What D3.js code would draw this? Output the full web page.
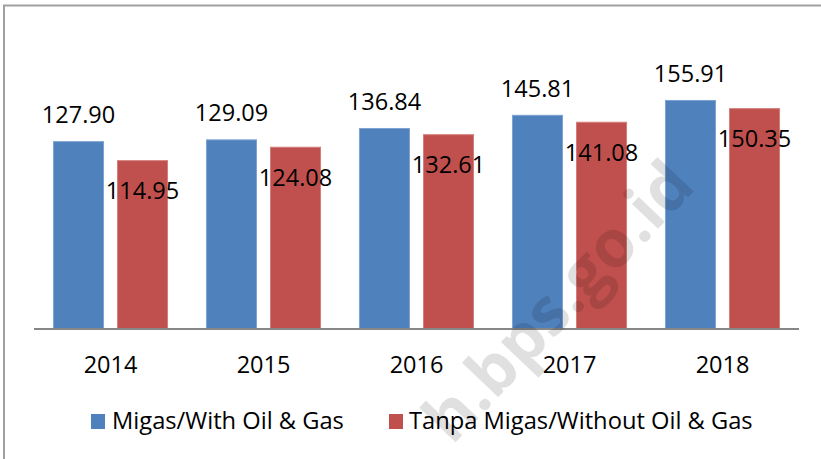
<!DOCTYPE html>
<html>
<head>
<meta charset="utf-8">
<script src="https://cdn.jsdelivr.net/npm/d3@7"></script>
<style>
  body { margin: 0; background: #fff; }
  svg text { font-family: "Open Sans", "Noto Sans", sans-serif; fill: #000; }
</style>
</head>
<body>
<svg width="821" height="459"></svg>
<script>
var years = ["2014", "2015", "2016", "2017", "2018"];
var seriesNames = ["Migas/With Oil & Gas", "Tanpa Migas/Without Oil & Gas"];
var withOilGas = [127.90, 129.09, 136.84, 145.81, 155.91];
var withoutOilGas = [114.95, 124.08, 132.61, 141.08, 150.35];
var colors = ["#4F81BD", "#C0504D"];
var strokes = ["#7ea3d3", "#d27e7b"];

var svg = d3.select("svg"),
    width = +svg.attr("width"),
    height = +svg.attr("height");

var baseY = 329;

var x0 = d3.scaleBand()
    .domain(years)
    .range([34, 799])
    .paddingInner(0.248)
    .paddingOuter(0.124);

var x1 = d3.scaleBand()
    .domain([0, 1])
    .range([0, x0.bandwidth()])
    .paddingInner(0.203);

var y = d3.scaleLinear()
    .domain([0, 180])
    .range([baseY, baseY - 180 * 1.469]);

// frame
svg.append("line")
    .attr("x1", 3).attr("x2", width)
    .attr("y1", 5.5).attr("y2", 5.5)
    .attr("stroke", "#a0a0a0").attr("stroke-width", 2);
svg.append("line")
    .attr("x1", 4).attr("x2", 4)
    .attr("y1", 5).attr("y2", height)
    .attr("stroke", "#a0a0a0").attr("stroke-width", 2);

var rows = years.map(function(yr, i) {
  return {year: yr, values: [withOilGas[i], withoutOilGas[i]]};
});

var group = svg.append("g").selectAll("g")
    .data(rows)
    .enter().append("g")
    .attr("transform", function(d) { return "translate(" + x0(d.year) + ",0)"; });

group.selectAll("rect")
    .data(function(d) { return d.values.map(function(v, s) { return {s: s, v: v}; }); })
    .enter().append("rect")
    .attr("x", function(d) { return x1(d.s) + 0.5; })
    .attr("width", x1.bandwidth() - 1)
    .attr("y", function(d) { return y(d.v) + 0.5; })
    .attr("height", function(d) { return baseY - y(d.v) - 0.5; })
    .attr("fill", function(d) { return colors[d.s]; })
    .attr("stroke", function(d) { return strokes[d.s]; })
    .attr("stroke-width", 1);

// value labels: blue above bar, red inside near top
group.selectAll("text.val")
    .data(function(d) { return d.values.map(function(v, s) { return {s: s, v: v}; }); })
    .enter().append("text")
    .attr("class", "val")
    .attr("x", function(d) { return x1(d.s) + x1.bandwidth() / 2; })
    .attr("y", function(d) { return d.s === 0 ? y(d.v) - 18 : y(d.v) + 39; })
    .attr("text-anchor", "middle")
    .style("font-size", "23.5px")
    .text(function(d) { return d.v.toFixed(2); });

// axis
var xAxis = svg.append("g")
    .attr("transform", "translate(0," + baseY + ")")
    .call(d3.axisBottom(x0).tickSize(0).tickPadding(0));
xAxis.select(".domain").remove();
xAxis.append("line")
    .attr("x1", 34).attr("x2", 799)
    .attr("stroke", "#868686").attr("stroke-width", 2);
xAxis.selectAll(".tick text")
    .attr("y", 44)
    .attr("dy", null)
    .style("font-size", "23.5px")
    .style("font-family", "'Open Sans', sans-serif")
    .attr("fill", "#000");

// legend
var legendX = [91, 389];
var legend = svg.append("g").selectAll("g")
    .data(seriesNames)
    .enter().append("g")
    .attr("transform", function(d, i) { return "translate(" + legendX[i] + ",414)"; });
legend.append("rect")
    .attr("width", 14).attr("height", 15)
    .attr("fill", function(d, i) { return colors[i]; });
legend.append("text")
    .attr("x", function(d, i) { return i === 0 ? 21 : 20; })
    .attr("y", 15)
    .style("font-size", "23.7px")
    .text(function(d) { return d; });

// watermark
svg.append("text")
    .attr("transform", "translate(452,446) rotate(-46.5)")
    .style("font-size", "66px")
    .style("font-weight", "bold")
    .style("fill", "#000")
    .style("fill-opacity", 0.12)
    .text("h.bps.go.id");
</script>
</body>
</html>
